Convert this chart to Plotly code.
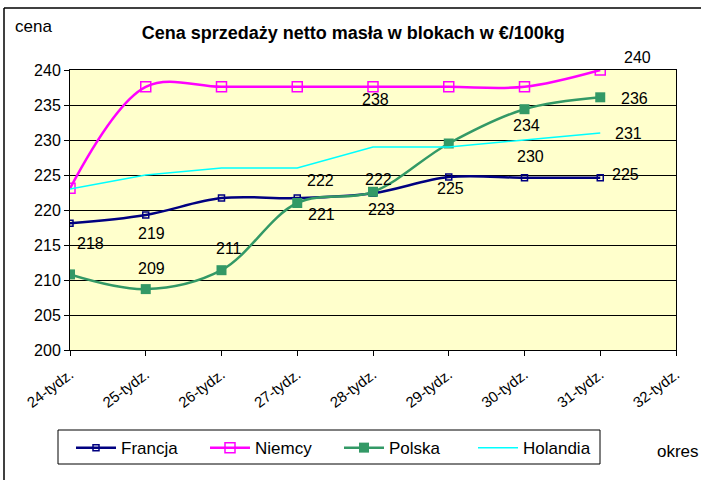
import plotly.graph_objects as go

weeks = ["24-tydz.", "25-tydz.", "26-tydz.", "27-tydz.", "28-tydz.",
         "29-tydz.", "30-tydz.", "31-tydz.", "32-tydz."]
francja = [218.1, 219.3, 221.7, 221.7, 222.4, 224.7, 224.6, 224.6]
niemcy = [223.1, 237.6, 237.6, 237.6, 237.6, 237.6, 237.6, 240.0]
polska = [210.8, 208.7, 211.4, 221.0, 222.6, 229.5, 234.4, 236.1]
holandia = [223.0, 225.0, 226.0, 226.0, 229.0, 229.0, 230.0, 231.0]
y_ticks = [200, 205, 210, 215, 220, 225, 230, 235, 240]

title_text = "Cena sprzedaży netto masła w blokach w €/100kg"
y_label = "cena"
x_label = "okres"

FONT = "Arial, Liberation Sans, sans-serif"

series = {
    "Francja": dict(y=francja, color="#000080", width=2.5, shape="spline",
                    marker=dict(symbol="square-open", size=6, color="#000080",
                                line=dict(width=1.5, color="#000080"))),
    "Niemcy": dict(y=niemcy, color="#FF00FF", width=2.5, shape="spline",
                   marker=dict(symbol="square-open", size=10, color="#FF00FF",
                               line=dict(width=1.5, color="#FF00FF"))),
    "Polska": dict(y=polska, color="#339966", width=2.5, shape="spline",
                   marker=dict(symbol="square", size=10, color="#339966")),
    "Holandia": dict(y=holandia, color="#00FFFF", width=1.5, shape="linear",
                     marker=None),
}

# which points carry a data label, with the label's offset (px) from the point
label_specs = {
    "Francja": [(0, 20, -20), (1, 6, -19), (3, 23, 18), (4, 5, 14), (5, 2, -11), (7, 25, 3)],
    "Niemcy": [(4, 2, -13), (7, 37, 13)],
    "Polska": [(1, 6, 21), (2, 7, 22), (3, 24, -11), (4, 8, -18), (6, 2, -16), (7, 34, -1)],
    "Holandia": [(6, 6, -16), (7, 28, 0)],
}

fig = go.Figure()
for name, s in series.items():
    kw = dict(x=weeks[:len(s["y"])], y=s["y"], name=name,
              line=dict(color=s["color"], width=s["width"], shape=s["shape"], smoothing=1))
    if s["marker"] is not None:
        kw["mode"] = "lines+markers"
        kw["marker"] = s["marker"]
    else:
        kw["mode"] = "lines"
    fig.add_trace(go.Scatter(**kw))

annotations = []
for name, specs in label_specs.items():
    vals = series[name]["y"]
    for idx, dx, dy in specs:
        annotations.append(dict(x=weeks[idx], y=vals[idx], xref="x", yref="y",
                                text=str(int(round(vals[idx]))), showarrow=False,
                                xanchor="center", yanchor="middle", xshift=dx, yshift=dy,
                                font=dict(family=FONT, size=16, color="black")))

annotations.append(dict(x=-0.094, y=1.154, xref="paper", yref="paper", text=y_label,
                        showarrow=False, xanchor="left", yanchor="middle",
                        font=dict(family=FONT, size=17, color="black")))
annotations.append(dict(x=0.965, y=-0.364, xref="paper", yref="paper", text=x_label,
                        showarrow=False, xanchor="left", yanchor="middle",
                        font=dict(family=FONT, size=17, color="black")))

PW, PH = 606.0, 280.0  # plot area size in px (for placing frame lines)

fig.update_layout(
    width=701, height=480,
    margin=dict(l=70, r=25, t=70, b=130),
    paper_bgcolor="white",
    plot_bgcolor="#FFFFCC",
    title=dict(text="<b>" + title_text + "</b>", x=0.504, xanchor="center",
               y=1 - 33 / 480, yanchor="middle",
               font=dict(family=FONT, size=18, color="black")),
    showlegend=True,
    legend=dict(orientation="h", x=(71 - 70) / PW, xanchor="left", y=-0.286, yanchor="top",
                bgcolor="rgba(0,0,0,0)", borderwidth=0,
                font=dict(family=FONT, size=17, color="black"),
                entrywidth=79, entrywidthmode="pixels", itemwidth=40,
                traceorder="normal"),
    annotations=annotations,
    shapes=[
        # outer chart frame (left and top edges)
        dict(type="line", xref="paper", yref="paper", x0=(4 - 70) / PW, x1=(4 - 70) / PW,
             y0=(350 - 490) / PH, y1=(350 - 8) / PH, line=dict(color="black", width=1.5)),
        dict(type="line", xref="paper", yref="paper", x0=(4 - 70) / PW, x1=(710 - 70) / PW,
             y0=(350 - 8) / PH, y1=(350 - 8) / PH, line=dict(color="black", width=1.5)),
        # legend box
        dict(type="rect", xref="paper", yref="paper", x0=(58 - 70) / PW, x1=(600 - 70) / PW,
             y0=(350 - 464) / PH, y1=(350 - 430) / PH, fillcolor="white",
             line=dict(color="black", width=1), layer="above"),
    ],
)

fig.update_xaxes(type="category", categoryorder="array", categoryarray=weeks,
                 range=[0, 8], showgrid=False, showline=True, linecolor="black",
                 linewidth=1, mirror=True, ticks="outside", ticklen=5, tickcolor="black",
                 tickangle=-37, ticklabelstandoff=4,
                 tickfont=dict(family=FONT, size=15, color="black"),
                 zeroline=False)
fig.update_yaxes(range=[200, 240], tickvals=y_ticks, showgrid=True, gridcolor="black",
                 gridwidth=1, showline=True, linecolor="black", linewidth=1, mirror=True,
                 ticks="outside", ticklen=5, tickcolor="black",
                 tickfont=dict(family=FONT, size=16, color="black"), zeroline=False)

fig.write_html("out.html", config={"displayModeBar": False},
               post_script="document.body.style.margin='0';")
